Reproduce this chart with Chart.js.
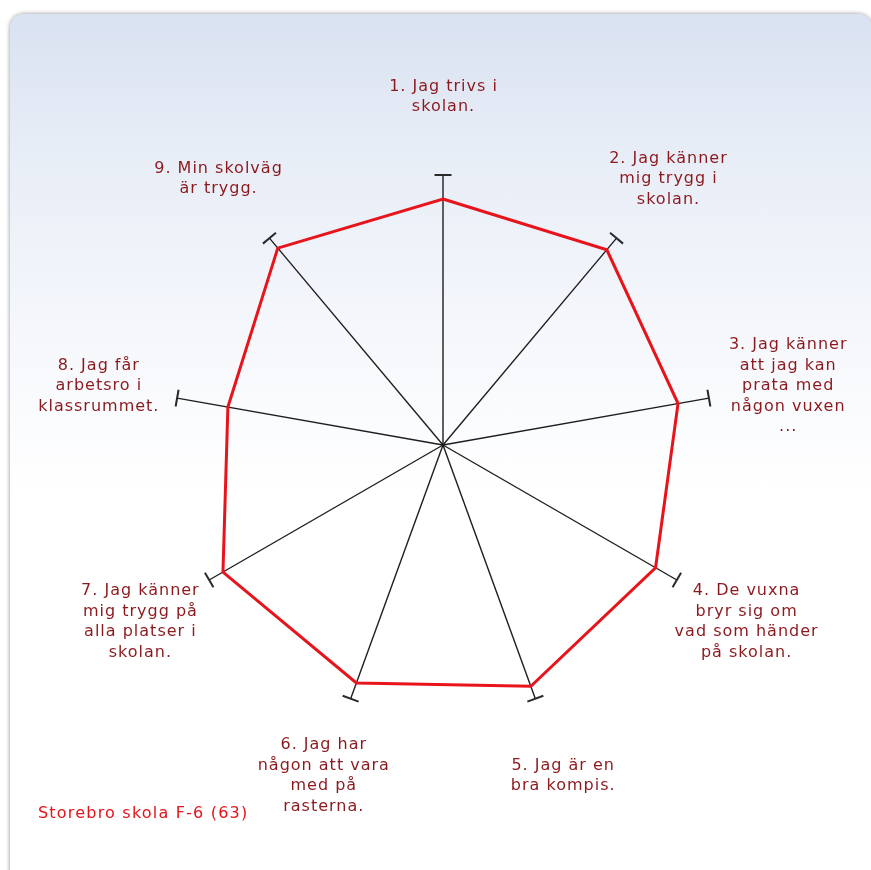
<!DOCTYPE html>
<html><head><meta charset="utf-8">
<script src="https://cdn.jsdelivr.net/npm/chart.js@4/dist/chart.umd.min.js"></script>
<style>
html,body{margin:0;padding:0;background:#fff;width:871px;height:870px;overflow:hidden;}
#box{position:absolute;left:10px;top:14px;width:862px;height:880px;border-radius:14px;background:linear-gradient(to bottom,#d9e2f1 0px,#e6ecf6 120px,#f6f8fc 330px,#ffffff 480px);box-shadow:0 0 4px rgba(0,0,0,0.45);}
#wrap{position:absolute;left:0;top:0;width:871px;height:870px;}
#legend{position:absolute;left:38px;top:803px;font:16px "DejaVu Sans",sans-serif;letter-spacing:1.2px;color:#e3141c;white-space:nowrap;}
</style></head><body>
<div id="box"></div>
<div id="wrap"><canvas id="c" width="871" height="870"></canvas></div>
<div id="legend"></div>
<script>
const categories = [
  ["1. Jag trivs i", "skolan."],
  ["2. Jag känner", "mig trygg i", "skolan."],
  ["3. Jag känner", "att jag kan", "prata med", "någon vuxen", "..."],
  ["4. De vuxna", "bryr sig om", "vad som händer", "på skolan."],
  ["5. Jag är en", "bra kompis."],
  ["6. Jag har", "någon att vara", "med på", "rasterna."],
  ["7. Jag känner", "mig trygg på", "alla platser i", "skolan."],
  ["8. Jag får", "arbetsro i", "klassrummet."],
  ["9. Min skolväg", "är trygg."]
];
const seriesName = "Storebro skola F-6 (63)";
const seriesValues = [9.11, 9.44, 8.84, 9.09, 9.51, 9.38, 9.41, 8.09, 9.52];
const scaleMin = 0;
const scaleMax = 10;

document.getElementById('legend').textContent = seriesName;

const LABEL_FONT = '16px "DejaVu Sans", sans-serif';
const LABEL_COLOR = '#8b1a1f';
const LINE_H = 20.5;

const capsPlugin = {
  id: 'caps',
  beforeDatasetsDraw(chart) {
    const s = chart.scales.r, ctx = chart.ctx;
    ctx.save();
    ctx.strokeStyle = '#2a2a2a';
    ctx.lineWidth = 2;
    for (let i = 0; i < categories.length; i++) {
      const p = s.getPointPositionForValue(i, scaleMax);
      const a = p.angle;
      const px = -Math.sin(a), py = Math.cos(a);
      ctx.beginPath();
      ctx.moveTo(p.x - px * 8.5, p.y - py * 8.5);
      ctx.lineTo(p.x + px * 8.5, p.y + py * 8.5);
      ctx.stroke();
    }
    ctx.restore();
  },
  afterDraw(chart) {
    const s = chart.scales.r, ctx = chart.ctx;
    ctx.save();
    ctx.font = LABEL_FONT;
    ctx.fillStyle = LABEL_COLOR;
    ctx.textAlign = 'center';
    ctx.textBaseline = 'middle';
    ctx.letterSpacing = '1px';
    for (let i = 0; i < categories.length; i++) {
      const lines = categories[i];
      const p = s.getPointPosition(i, s.drawingArea + 80);
      const y0 = p.y + 2 - (lines.length - 1) * LINE_H / 2;
      lines.forEach((t, k) => ctx.fillText(t, p.x + 0.5, y0 + k * LINE_H));
    }
    ctx.restore();
  }
};

new Chart(document.getElementById('c'), {
  type: 'radar',
  data: {
    labels: categories,
    datasets: [{
      label: seriesName,
      data: seriesValues,
      borderColor: '#e8141b',
      borderWidth: 3,
      backgroundColor: 'rgba(0,0,0,0)',
      fill: false,
      pointRadius: 0,
      pointHoverRadius: 0,
      tension: 0
    }]
  },
  options: {
    responsive: false,
    animation: false,
    layout: { padding: { left: 173, right: 158, top: 175, bottom: 155 } },
    plugins: { legend: { display: false }, tooltip: { enabled: false } },
    scales: {
      r: {
        min: scaleMin,
        max: scaleMax,
        ticks: { display: false },
        grid: { display: false },
        angleLines: { display: true, color: '#1e1e1e', lineWidth: 1.4 },
        pointLabels: { display: false }
      }
    }
  },
  plugins: [capsPlugin]
});
</script>
</body></html>
